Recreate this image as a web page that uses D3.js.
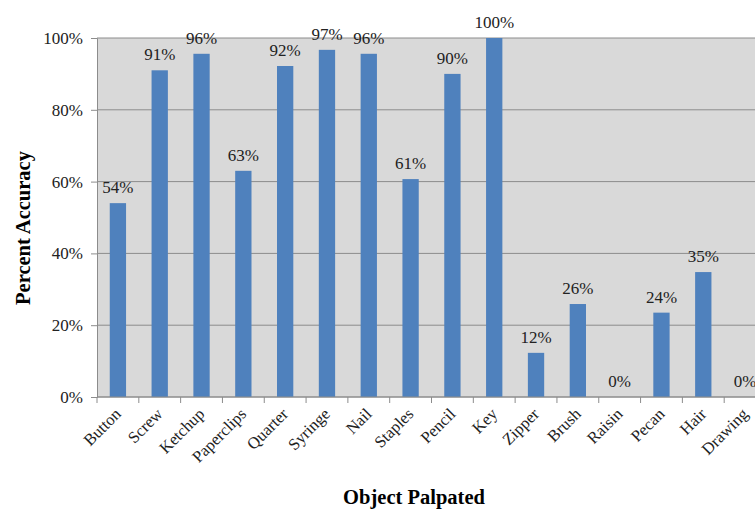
<!DOCTYPE html>
<html>
<head>
<meta charset="utf-8">
<script src="https://cdn.jsdelivr.net/npm/d3@7"></script>
<style>
  body { margin: 0; background: #fff; }
  svg { display: block; font-family: "Liberation Serif", "DejaVu Serif", serif; }
</style>
</head>
<body>
<script>
// data
var objects = ['Button', 'Screw', 'Ketchup', 'Paperclips', 'Quarter', 'Syringe', 'Nail', 'Staples',
  'Pencil', 'Key', 'Zipper', 'Brush', 'Raisin', 'Pecan', 'Hair', 'Drawing'];
var accuracy = [54, 91, 95.6, 63, 92.2, 96.7, 95.6, 60.7, 90, 100, 12.3, 25.9, 0, 23.5, 34.8, 0];
var yTicks = [0, 20, 40, 60, 80, 100];

var width = 755, height = 510;
var margin = { left: 97, top: 38, bottom: 113 };
var plotW = 669; // plot runs past the right edge, as in the original
var plotH = height - margin.top - margin.bottom;

var svg = d3.select('body').append('svg')
  .attr('width', width)
  .attr('height', height);

var x = d3.scaleBand().domain(objects).range([margin.left, margin.left + plotW]).paddingInner(0.61).paddingOuter(0.305);
var y = d3.scaleLinear().domain([0, 100]).range([margin.top + plotH, margin.top]);

// background
svg.append('rect')
  .attr('x', margin.left).attr('y', margin.top)
  .attr('width', plotW).attr('height', plotH)
  .attr('fill', '#d9d9d9');

// gridlines
svg.selectAll('.grid').data(yTicks).enter().append('line')
  .attr('class', 'grid')
  .attr('x1', margin.left).attr('x2', margin.left + plotW)
  .attr('y1', function(d) { return y(d); }).attr('y2', function(d) { return y(d); })
  .attr('stroke', '#8c8c8c').attr('stroke-width', 1);

// bars
svg.selectAll('.bar').data(accuracy).enter().append('rect')
  .attr('class', 'bar')
  .attr('x', function(d, i) { return x(objects[i]); })
  .attr('width', x.bandwidth())
  .attr('y', function(d) { return y(d); })
  .attr('height', function(d) { return y(0) - y(d); })
  .attr('fill', '#4f81bd');

// value labels
svg.selectAll('.lbl').data(accuracy).enter().append('text')
  .attr('class', 'lbl')
  .attr('x', function(d, i) { return x(objects[i]) + x.bandwidth() / 2; })
  .attr('y', function(d) { return y(d) - 10; })
  .attr('text-anchor', 'middle')
  .attr('font-size', 17)
  .attr('fill', '#222')
  .text(function(d) { return Math.round(d) + '%'; });

// y axis
var yAxis = d3.axisLeft(y).tickValues(yTicks).tickSize(6).tickPadding(8)
  .tickFormat(function(d) { return d + '%'; });
var gy = svg.append('g').attr('transform', 'translate(' + margin.left + ',0)').call(yAxis);
gy.select('.domain').attr('stroke', '#8c8c8c');
gy.selectAll('.tick line').attr('stroke', '#8c8c8c');
gy.selectAll('.tick text').attr('font-size', 17).attr('fill', '#222').style('font-family', 'Liberation Serif');

// x axis with ticks between categories
var gx = svg.append('g').attr('transform', 'translate(0,' + y(0) + ')');
gx.append('line')
  .attr('x1', margin.left).attr('x2', margin.left + plotW)
  .attr('stroke', '#8c8c8c');
var step = x.step();
gx.selectAll('.xt').data(d3.range(objects.length + 1)).enter().append('line')
  .attr('class', 'xt')
  .attr('x1', function(i) { return margin.left + i * step; })
  .attr('x2', function(i) { return margin.left + i * step; })
  .attr('y1', 0).attr('y2', 6)
  .attr('stroke', '#8c8c8c');
gx.selectAll('.xl').data(objects).enter().append('text')
  .attr('class', 'xl')
  .attr('transform', function(d) {
    return 'translate(' + (x(d) + x.bandwidth() / 2 + 4) + ',18) rotate(-45)';
  })
  .attr('text-anchor', 'end')
  .attr('font-size', 16.5)
  .attr('fill', '#222')
  .text(function(d) { return d; });

// axis titles
svg.append('text')
  .attr('x', 414).attr('y', 504)
  .attr('text-anchor', 'middle')
  .attr('font-size', 20.5).attr('font-weight', 'bold')
  .text('Object Palpated');

svg.append('text')
  .attr('transform', 'translate(30,228) rotate(-90)')
  .attr('text-anchor', 'middle')
  .attr('font-size', 20.5).attr('font-weight', 'bold')
  .text('Percent Accuracy');
</script>
</body>
</html>
